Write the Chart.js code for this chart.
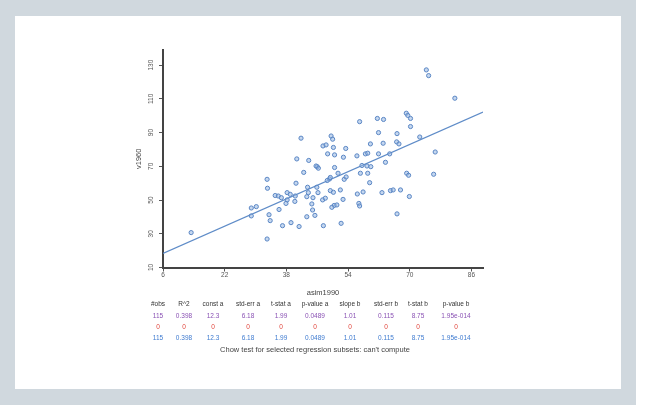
<!DOCTYPE html>
<html><head><meta charset="utf-8">
<script src="https://cdn.jsdelivr.net/npm/chart.js@4"></script>
<style>
html,body{margin:0;padding:0;width:648px;height:408px;background:#fff;overflow:hidden;font-family:"Liberation Sans",Arial,sans-serif;}
#frame{position:absolute;left:0;top:0;width:636px;height:405px;background:#d0d8de;}
#panel{position:absolute;left:15px;top:16px;width:606px;height:373px;background:#fff;}
#wrap{position:absolute;left:0;top:0;width:648px;height:408px;}
.cell{position:absolute;transform:translateX(-50%);white-space:nowrap;font-size:6.5px;line-height:8px;}
.foot{position:absolute;transform:translateX(-50%);white-space:nowrap;font-size:7.5px;line-height:9px;color:#444;}
</style></head><body>
<div id="frame"></div><div id="panel"></div>
<div id="wrap"><canvas id="c" width="648" height="408"></canvas></div>
<div id="table"></div>
<script>
// ---- data ----
const xValues = [13.3,28.9,30.2,28.9,33.0,33.1,33.5,33.8,33.0,35.1,35.9,36.7,36.1,37.0,37.9,38.2,39.0,39.2,38.2,40.2,40.3,40.5,40.7,41.3,41.8,42.5,43.3,43.5,43.8,43.7,43.3,44.6,44.8,44.9,45.4,45.9,46.0,46.3,46.2,47.4,48.1,47.6,47.5,48.3,48.7,49.6,50.0,50.2,50.5,50.5,49.2,48.6,49.4,49.4,50.2,52.0,50.4,51.1,49.8,51.4,52.7,52.2,52.8,53.4,53.0,53.5,56.3,58.5,59.1,59.8,61.9,64.8,63.1,66.6,67.2,63.7,57.6,58.9,59.9,57.2,59.1,59.6,56.4,57.9,62.8,65.0,65.7,67.6,69.9,56.8,57.0,66.7,69.2,69.7,76.2,76.6,72.6,61.9,66.7,57.0,61.6,63.2,69.1,69.5,70.2,70.2,74.3,74.9,81.7,45.7];
const yValues = [30.7,45.3,46.1,40.6,62.3,57.0,41.3,37.8,26.9,52.7,52.4,51.4,44.4,34.8,48.0,54.4,53.4,36.6,50.1,49.2,52.4,60.0,74.4,34.3,86.7,66.4,52.0,57.6,73.5,54.4,40.1,47.7,44.1,51.4,40.9,57.6,69.8,68.9,54.4,50.1,51.1,34.8,82.1,82.7,77.4,88.0,86.1,81.2,76.8,69.3,62.5,61.6,63.4,55.6,54.6,56.0,46.8,47.1,45.7,65.9,50.4,36.2,75.4,80.6,62.3,63.7,76.2,77.4,77.8,83.3,77.4,77.4,83.7,84.5,83.3,72.4,70.5,70.2,69.8,65.9,65.9,60.3,53.6,54.8,54.4,55.6,56.0,56.0,52.1,48.0,46.5,41.8,65.9,64.7,65.3,78.5,87.4,90.0,89.4,96.5,98.4,97.8,101.5,100.2,98.4,93.6,127.2,123.8,110.4,70.2];
const lineX = [6, 89];
const lineY = [18.4, 102.2];
const xTicks = [6,22,38,54,70,86];
const yTicks = [10,30,50,70,90,110,130];
const xTitle = 'asim1990';
const yTitle = 'v1960';
const headers = ['#obs','R^2','const a','std-err a','t-stat a','p-value a','slope b','std-err b','t-stat b','p-value b'];
const rowAll = ['115','0.398','12.3','6.18','1.99','0.0489','1.01','0.115','8.75','1.95e-014'];
const rowZero = ['0','0','0','0','0','0','0','0','0','0'];
const rowSel = ['115','0.398','12.3','6.18','1.99','0.0489','1.01','0.115','8.75','1.95e-014'];
const footText = "Chow test for selected regression subsets: can't compute";

// ---- table ----
const colX = [158,184,213,248,281,315,350,386,418,456];
const rows = [[headers,'#333',304],[rowAll,'#8a52b4',316],[rowZero,'#e0453c',327],[rowSel,'#3f7bd0',338]];
const tbl = document.getElementById('table');
rows.forEach(([vals,color,yc])=>{
  vals.forEach((v,i)=>{
    const d=document.createElement('div');d.className='cell';
    d.style.left=colX[i]+'px';d.style.top=(yc-4)+'px';d.style.color=color;d.textContent=v;tbl.appendChild(d);
  });
});
const f=document.createElement('div');f.className='foot';f.style.left='315px';f.style.top='344.5px';f.textContent=footText;tbl.appendChild(f);

// ---- chart ----
const pts = xValues.map((x,i)=>({x, y:yValues[i]}));
const linePts = lineX.map((x,i)=>({x, y:lineY[i]}));
new Chart(document.getElementById('c'), {
  type:'scatter',
  data:{datasets:[
    {data:linePts, showLine:true, pointRadius:0, borderColor:'#5f8cc8', borderWidth:1.2, fill:false, order:2},
    {data:pts, pointRadius:2.1, pointBackgroundColor:'rgba(150,182,225,0.55)', pointBorderColor:'#5a86c4', pointBorderWidth:1, order:1}
  ]},
  options:{
    responsive:false, animation:false, devicePixelRatio:1,
    layout:{padding:{left:130,right:165,top:50,bottom:106.5}},
    plugins:{legend:{display:false},tooltip:{enabled:false}},
    scales:{
      x:{type:'linear',min:6,max:89,
        afterBuildTicks:s=>{s.ticks=xTicks.map(v=>({value:v}));},
        afterFit:s=>{s.height=34;},
        grid:{drawOnChartArea:false,drawTicks:true,tickLength:4,color:'#555',lineWidth:1},
        border:{display:true,color:'#444',width:2},
        ticks:{font:{size:6.5,family:'Liberation Sans'},color:'#555',padding:0,maxRotation:0,autoSkip:false},
        title:{display:true,text:xTitle,font:{size:7.5,family:'Liberation Sans'},color:'#444',padding:4}
      },
      y:{type:'linear',min:10,max:139,
        afterBuildTicks:s=>{s.ticks=yTicks.map(v=>({value:v}));},
        afterFit:s=>{s.width=33;},
        grid:{drawOnChartArea:false,drawTicks:true,tickLength:4,color:'#555',lineWidth:1},
        border:{display:true,color:'#444',width:2},
        ticks:{font:{size:6.5,family:'Liberation Sans'},color:'#555',padding:2,minRotation:90,maxRotation:90,crossAlign:'center',autoSkip:false},
        title:{display:true,text:yTitle,font:{size:7.5,family:'Liberation Sans'},color:'#444',padding:4}
      }
    }
  }
});
</script>
</body></html>
